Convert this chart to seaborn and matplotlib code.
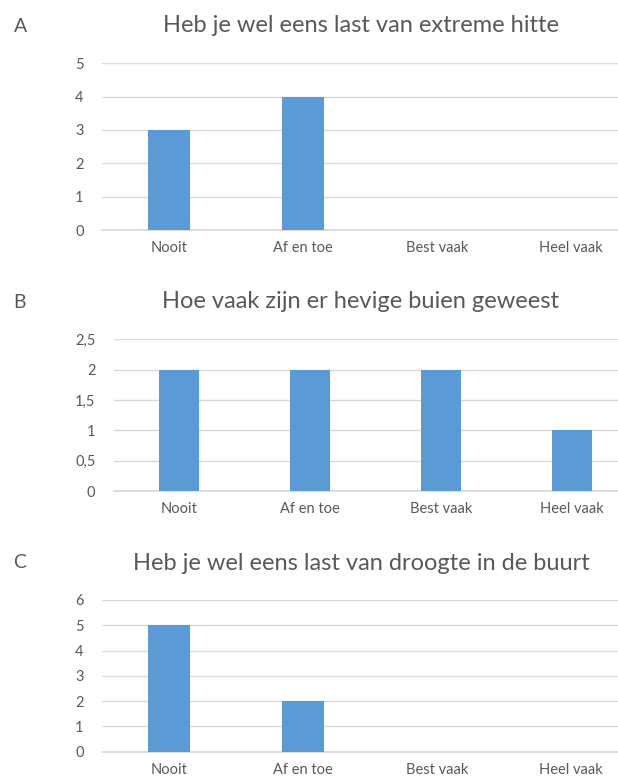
import matplotlib
matplotlib.use("Agg")
import matplotlib.pyplot as plt
import seaborn as sns
import pandas as pd

# categories and answers (counts) per question
categories = ["Nooit", "Af en toe", "Best vaak", "Heel vaak"]
hitte = [3, 4, 0, 0]
buien = [2, 2, 2, 1]
droogte = [5, 2, 0, 0]

titles = ["Heb je wel eens last van extreme hitte",
          "Hoe vaak zijn er hevige buien geweest",
          "Heb je wel eens last van droogte in de buurt"]
letters = ["A", "B", "C"]

ticks_a = [0, 1, 2, 3, 4, 5]
ticks_b = [0, 0.5, 1, 1.5, 2, 2.5]
ticks_b_labels = ["0", "0,5", "1", "1,5", "2", "2,5"]
ticks_c = [0, 1, 2, 3, 4, 5, 6]

sns.set_theme(style="whitegrid")
plt.rcParams["font.family"] = ["Lato", "DejaVu Sans"]

bar_color = "#5B9BD5"
text_color = "#595959"
grid_color = "#D9D9D9"

fig = plt.figure(figsize=(6.18, 7.81), dpi=100)

# axes positions (left, bottom, width, height) in figure fractions
positions = [
    [0.1646, 0.7055, 0.8676, 0.2135],
    [0.1837, 0.3713, 0.8480, 0.1943],
    [0.1646, 0.0375, 0.8676, 0.1943],
]
title_y = [1 - 26 / 781, 1 - 302 / 781, 1 - 563 / 781]

panels = [
    (hitte, ticks_a, [str(t) for t in ticks_a]),
    (buien, ticks_b, ticks_b_labels),
    (droogte, ticks_c, [str(t) for t in ticks_c]),
]

for i, (vals, ticks, tlabels) in enumerate(panels):
    ax = fig.add_axes(positions[i])
    df = pd.DataFrame({"antwoord": categories, "aantal": vals})
    sns.barplot(data=df, x="antwoord", y="aantal", color=bar_color,
                width=0.31, saturation=1, linewidth=0, ax=ax, zorder=3)
    ax.set_ylim(ticks[0], ticks[-1])
    ax.set_yticks(ticks)
    ax.set_yticklabels(tlabels)
    ax.set_xlabel("")
    ax.set_ylabel("")
    ax.grid(axis="y", color=grid_color, linewidth=1)
    ax.grid(axis="x", visible=False)
    for s in ["left", "right", "top"]:
        ax.spines[s].set_visible(False)
    ax.spines["bottom"].set_color(grid_color)
    ax.tick_params(axis="both", length=0, colors=text_color, labelsize=10.5)
    ax.tick_params(axis="y", pad=13)
    ax.tick_params(axis="x", pad=8)

    fig.text(361 / 618, title_y[i], titles[i], ha="center", va="center",
             fontsize=17, color=text_color)
    fig.text(0.022, title_y[i], letters[i], ha="left", va="center",
             fontsize=14, color=text_color)

fig.savefig("out.png", dpi=100)
